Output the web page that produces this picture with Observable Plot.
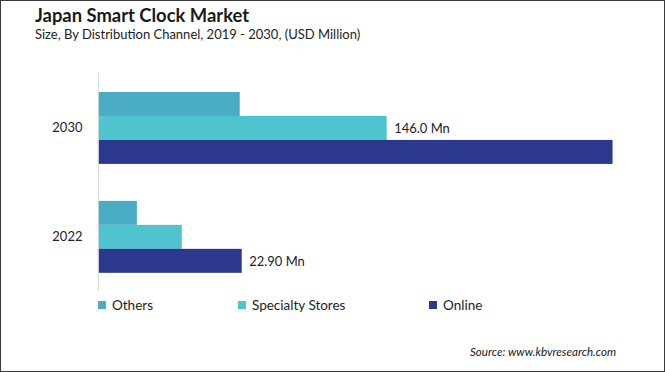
<!DOCTYPE html>
<html>
<head>
<meta charset="utf-8">
<script src="https://cdn.jsdelivr.net/npm/d3@7"></script>
<script src="https://cdn.jsdelivr.net/npm/@observablehq/plot@0.6"></script>
<style>
  html, body { margin: 0; padding: 0; background: #fff; }
  #wrap { position: relative; width: 665px; height: 372px; box-sizing: border-box; border: 1.5px solid #3a3a3a; background: #fff; font-family: Lato, "Open Sans", sans-serif; overflow: hidden; }
  #title { position: absolute; left: 34px; top: 3px; font-size: 18.4px; font-weight: bold; color: #1a1a1a; white-space: nowrap; }
  #subtitle { position: absolute; left: 34px; top: 25px; font-size: 13px; color: #222; white-space: nowrap; }
  #chart { position: absolute; left: -1.5px; top: 58.5px; }
  #legend { position: absolute; top: 295px; left: 0; width: 665px; height: 20px; font-size: 13.5px; color: #222; }
  .item { position: absolute; top: 0; white-space: nowrap; display: flex; align-items: center; height: 18px; }
  .sw { width: 8px; height: 8px; margin-right: 6px; }
  #source { position: absolute; left: 469px; top: 344px; font-size: 11.6px; font-style: italic; color: #222; white-space: nowrap; }
</style>
</head>
<body>
<div id="wrap">
  <div id="title"></div>
  <div id="subtitle"></div>
  <div id="chart"></div>
  <div id="legend"></div>
  <div id="source"></div>
</div>
<script>
const titleText = "Japan Smart Clock Market";
const subtitleText = "Size, By Distribution Channel, 2019 - 2030, (USD Million)";
const sourceText = "Source: www.kbvresearch.com";

const years = ["2030", "2022"];
const series = ["Others", "Specialty Stores", "Online"];
const colors = ["#4aabc5", "#4fc3ce", "#2b388e"];
// bar values (common scale)
const values2030 = [71.7, 146.0, 260.2];
const values2022 = [19.7, 42.4, 72.7];
// value labels shown in the picture
const labelYears = ["2030", "2022"];
const labelSeries = ["Specialty Stores", "Online"];
const labelTexts = ["146.0 Mn", "22.90 Mn"];

document.getElementById("title").textContent = titleText;
document.getElementById("subtitle").textContent = subtitleText;
document.getElementById("source").textContent = sourceText;

const data = [];
series.forEach((s, i) => {
  data.push({year: "2030", series: s, value: values2030[i]});
  data.push({year: "2022", series: s, value: values2022[i]});
});
const labels = labelTexts.map((t, i) => {
  const d = data.find(r => r.year === labelYears[i] && r.series === labelSeries[i]);
  return {year: labelYears[i], series: labelSeries[i], value: d.value, label: t};
});

const chart = Plot.plot({
  width: 665,
  height: 240,
  marginLeft: 98,
  marginRight: 52,
  marginTop: 12,
  marginBottom: 9,
  style: {fontFamily: "Lato, 'Open Sans', sans-serif", fontSize: "13px", color: "#222", background: "transparent"},
  fy: {domain: years, padding: 0, axis: "left", label: null, tickSize: 0, tickPadding: 16},
  y: {domain: series, paddingInner: 0, paddingOuter: 0.73, axis: null},
  x: {domain: [0, 260.2], axis: null},
  color: {domain: series, range: colors},
  marks: [
    Plot.barX(data, {fy: "year", y: "series", x: "value", fill: "series", inset: 0}),
    Plot.ruleX([0], {stroke: "#d9d9d9", strokeWidth: 1}),
    Plot.text(labels, {fy: "year", y: "series", x: "value", text: "label", textAnchor: "start", dx: 7, fill: "#222", fontSize: 13})
  ]
});
document.getElementById("chart").appendChild(chart);

const legend = document.getElementById("legend");
const legendX = [97, 237, 428];
series.forEach((s, i) => {
  const it = document.createElement("div");
  it.className = "item";
  it.style.left = legendX[i] + "px";
  const sw = document.createElement("span");
  sw.className = "sw";
  sw.style.background = colors[i];
  const tx = document.createElement("span");
  tx.textContent = s;
  it.appendChild(sw);
  it.appendChild(tx);
  legend.appendChild(it);
});
</script>
</body>
</html>
